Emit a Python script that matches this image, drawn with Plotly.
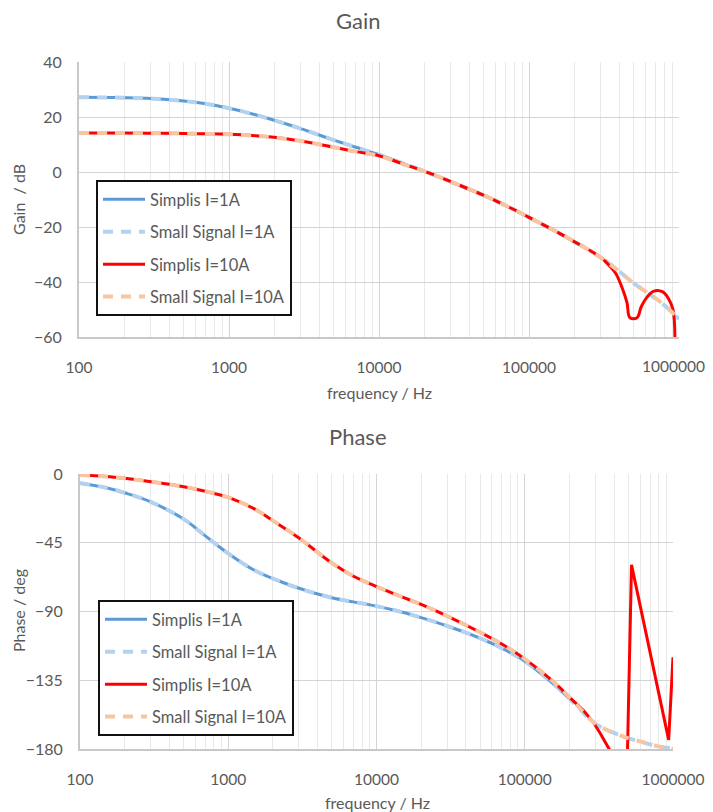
import plotly.graph_objects as go

# ---------------- data ----------------
freq = [100, 150, 200, 300, 500, 700, 1000, 1500, 2000, 3000, 5000, 7000,
        10000, 15000, 20000, 30000, 50000, 70000, 100000, 150000, 200000,
        300000, 400000, 500000, 600000, 700000, 800000, 900000, 1000000]

gain_ss_1A = [27.2, 27.1, 27.0, 26.7, 25.8, 24.8, 23.2, 20.8, 18.8, 15.8, 11.6, 9.0,
              6.3, 2.8, 0.3, -3.5, -8.5, -12.2, -16.5, -21.5, -25.3,
              -31.0, -36.2, -40.5, -43.5, -46.0, -48.5, -51.0, -53.5]
gain_ss_10A = [14.2, 14.2, 14.2, 14.1, 14.0, 13.9, 13.7, 13.2, 12.6, 11.3, 9.0, 7.4,
               5.9, 2.6, 0.3, -3.5, -8.5, -12.2, -16.5, -21.5, -25.3,
               -31.0, -36.2, -40.5, -43.5, -46.0, -48.5, -51.0, -53.5]

phase_ss_1A = [-6, -9, -12.3, -18.2, -29.5, -40.5, -52, -63, -68.4, -74.8, -81, -83.7,
               -86.5, -90.5, -94, -99.5, -107.5, -114, -122.5, -136, -147,
               -163.5, -169.5, -173, -175, -177, -178.3, -179.2, -179.8]
phase_ss_10A = [-0.7, -1.6, -2.8, -5, -8.3, -11.3, -15.3, -22.8, -30.5, -41.9, -58.3, -66.9,
                -73.7, -80.6, -85.4, -93, -103.6, -111.3, -121, -134.5, -146,
                -163.5, -169.5, -173, -175, -177, -178.3, -179.2, -179.8]

# Simplis I=1A (ends at 200 kHz)
freq_sim_1A = freq[:21]
gain_sim_1A = gain_ss_1A[:21]
phase_sim_1A = phase_ss_1A[:21]

# Simplis I=10A
freq_sim_10A_gain = freq[:22] + [350000, 380000, 417000, 450000, 471000, 525000, 560000,
                                 612000, 680000, 780000, 850000, 912000, 940000]
gain_sim_10A = gain_ss_10A[:22] + [-34.5, -37.0, -42.0, -47.5, -53.0, -53.0, -49.0,
                                   -45.5, -43.3, -43.6, -46.0, -50.0, -62.0]
freq_sim_10A_phase = freq[:21] + [250000, 290000, 322000, 376000, 420000, 476000,
                                  525000, 935000, 1000000]
phase_sim_10A = phase_ss_10A[:21] + [-155, -162.5, -169.5, -181, -196, -250,
                                     -59.5, -174, -120]

x_tickvals = [100, 1000, 10000, 100000, 1000000]
x_ticktext = ["100", "1000", "10000", "100000", "1000000"]
gain_ticks = [40, 20, 0, -20, -40, -60]
phase_ticks = [0, -45, -90, -135, -180]
minor_vals = [m * 10 ** e for e in range(2, 6) for m in range(2, 10)]

# ---------------- styles ----------------
C_SIM1 = "#5b9bd5"
C_SS1 = "#b4d2ee"
C_SIM10 = "#ff0000"
C_SS10 = "#f8c4a2"
FONT = "Lato, 'Open Sans', sans-serif"
TXT = "#595959"
DASH = "10px,8px"
SMOOTH = dict(shape="spline", smoothing=1.0)

fig = go.Figure()

def add_line(xs, ys, name, color, width, dash, xa, ya, leg, group, smooth=True):
    line = dict(color=color, width=width, dash=dash)
    if smooth:
        line.update(SMOOTH)
    fig.add_trace(go.Scatter(
        x=xs, y=ys, name=name, mode="lines", line=line,
        xaxis=xa, yaxis=ya, legend=leg, legendgroup=group, hoverinfo="skip",
    ))

# gain
add_line(freq_sim_1A, gain_sim_1A, "Simplis I=1A", C_SIM1, 3, "solid", "x", "y", "legend", "g1")
add_line(freq, gain_ss_1A, "Small Signal I=1A", C_SS1, 4, DASH, "x", "y", "legend", "g2")
add_line(freq_sim_10A_gain, gain_sim_10A, "Simplis I=10A", C_SIM10, 3, "solid", "x", "y", "legend", "g3")
add_line(freq, gain_ss_10A, "Small Signal I=10A", C_SS10, 4, DASH, "x", "y", "legend", "g4")

# phase
add_line(freq_sim_1A, phase_sim_1A, "Simplis I=1A", C_SIM1, 3, "solid", "x2", "y2", "legend2", "p1")
add_line(freq, phase_ss_1A, "Small Signal I=1A", C_SS1, 4, DASH, "x2", "y2", "legend2", "p2")
add_line(freq_sim_10A_phase[:21], phase_sim_10A[:21], "Simplis I=10A", C_SIM10, 3, "solid",
         "x2", "y2", "legend2", "p3")
add_line(freq_sim_10A_phase[20:], phase_sim_10A[20:], "Simplis I=10A", C_SIM10, 3, "solid",
         "x2", "y2", "legend2", "p3", smooth=False)
fig.data[-1].showlegend = False
add_line(freq, phase_ss_10A, "Small Signal I=10A", C_SS10, 4, DASH, "x2", "y2", "legend2", "p4")

# page body adds an 8px offset, so the figure is laid out in page pixels minus 8
OFF = 8
W, H = 713 - OFF, 812 - OFF
def px_x(a, b):
    return [(a - OFF) / W, (b - OFF) / W]
def px_y(top, bottom):
    return [1 - (bottom - OFF) / H, 1 - (top - OFF) / H]
def fx(x):
    return (x - OFF) / W
def fy(y):
    return 1 - (y - OFF) / H

TICKFONT = dict(family=FONT, size=15.5, color=TXT)
xaxis_common = dict(
    type="log", range=[2, 6], tickmode="array", tickvals=x_tickvals,
    showgrid=True, gridcolor="#d4d4d4", gridwidth=1,
    minor=dict(tickmode="array", tickvals=minor_vals, showgrid=True, gridcolor="#e9e9e9", gridwidth=1),
    showline=True, linecolor="#c8c8c8", linewidth=2,
    ticks="", ticklabelstandoff=15, automargin=False,
    tickfont=TICKFONT, zeroline=False, fixedrange=True,
)
yaxis_common = dict(
    showgrid=True, gridcolor="#d4d4d4", gridwidth=1,
    showline=True, linecolor="#c8c8c8", linewidth=2,
    ticks="", ticklabelstandoff=12, tickmode="array", automargin=False,
    tickfont=dict(family=FONT, size=16, color=TXT), zeroline=False, fixedrange=True,
)

legend_common = dict(
    bordercolor="#111111", borderwidth=2, bgcolor="white",
    font=dict(family=FONT, size=16.5, color=TXT),
    xanchor="left", yanchor="top", traceorder="grouped", tracegroupgap=8,
    itemwidth=42,
)

# the last gain tick label sits at the page edge; it is drawn as a nudged annotation
gain_ticktext = x_ticktext[:-1] + [""]

fig.update_layout(
    width=W, height=H, margin=dict(l=0, r=0, t=0, b=0, autoexpand=False),
    paper_bgcolor="white", plot_bgcolor="white", showlegend=True,
    xaxis=dict(domain=px_x(79, 679), anchor="y", ticktext=gain_ticktext, **xaxis_common),
    yaxis=dict(domain=px_y(62, 337), anchor="x", range=[-60, 40], tickvals=gain_ticks, **yaxis_common),
    xaxis2=dict(domain=px_x(80, 673), anchor="y2", ticktext=x_ticktext, **xaxis_common),
    yaxis2=dict(domain=px_y(474, 749), anchor="x2", range=[-180, 0], tickvals=phase_ticks, **yaxis_common),
    legend=dict(x=fx(96), y=fy(180), **legend_common),
    legend2=dict(x=fx(98), y=fy(600), **legend_common),
)

fig.add_annotation(text=x_ticktext[-1], x=6, xref="x", y=fy(366), yref="paper",
                   showarrow=False, xanchor="center", yanchor="middle", xshift=-6,
                   font=TICKFONT)

annots = [
    dict(text="Gain", x=358, y=21, size=22),
    dict(text="Phase", x=358, y=436, size=22),
    dict(text="frequency / Hz", x=379, y=392, size=16),
    dict(text="frequency / Hz", x=377, y=802, size=16),
]
for a in annots:
    fig.add_annotation(text=a["text"], x=fx(a["x"]), y=fy(a["y"]), xref="paper", yref="paper",
                       showarrow=False, xanchor="center", yanchor="middle",
                       font=dict(family=FONT, size=a["size"], color=TXT))
for t, yc in [("Gain  / dB", 200), ("Phase / deg", 611)]:
    fig.add_annotation(text=t, x=fx(18), y=fy(yc), xref="paper", yref="paper",
                       showarrow=False, textangle=-90, xanchor="center", yanchor="middle",
                       font=dict(family=FONT, size=16, color=TXT))

fig.write_html("out.html")
